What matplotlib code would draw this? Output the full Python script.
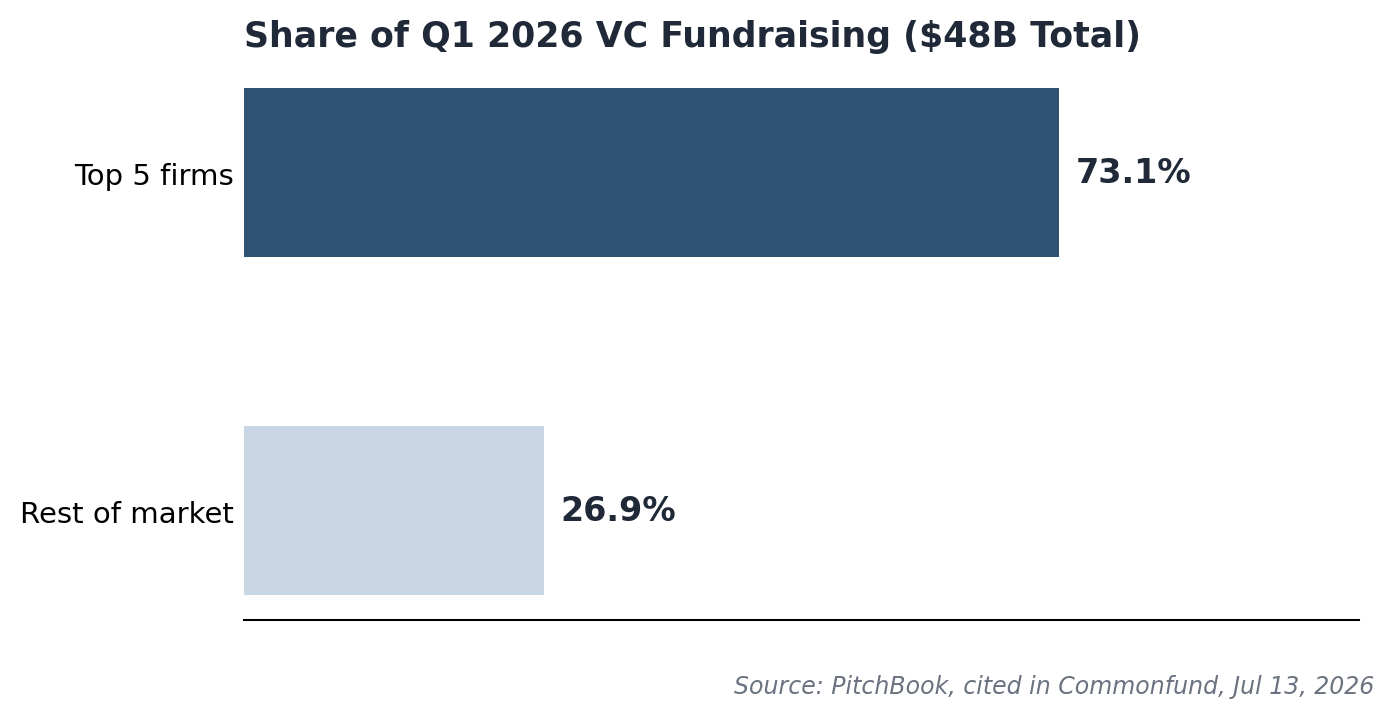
import matplotlib
matplotlib.use("Agg")
import matplotlib.pyplot as plt
import matplotlib.transforms as mtransforms

categories = ["Rest of market", "Top 5 firms"]
shares = [26.9, 73.1]
colors = ["#c9d7e4", "#2f5273"]
value_labels = ["26.9%", "73.1%"]

fig = plt.figure(figsize=(13.94, 7.19), dpi=100)
ax = fig.add_axes([0.175, 0.1372, 0.8, 0.7757])
ax.barh(categories, shares, height=0.5, color=colors)
ax.set_xlim(0, 100)
shift1 = mtransforms.ScaledTranslation(0, -1 / 100, fig.dpi_scale_trans)
for i, (v, lab) in enumerate(zip(shares, value_labels)):
    ax.text(v + 1.5, i, lab, va="center", ha="left", fontsize=24,
            fontweight="bold", color="#1f2937",
            transform=ax.transData + shift1)
ax.set_xticks([])
ax.tick_params(axis="y", length=0, labelsize=21, pad=7.5)
shift2 = mtransforms.ScaledTranslation(0, -2 / 100, fig.dpi_scale_trans)
for t in ax.get_yticklabels():
    t.set_transform(t.get_transform() + shift2)
for s in ["top", "right", "left"]:
    ax.spines[s].set_visible(False)
ax.spines["bottom"].set_linewidth(1.5)
ax.set_title("Share of Q1 2026 VC Fundraising ($48B Total)", loc="left",
             fontsize=25, fontweight="bold", color="#1f2937", pad=11)
fig.text(0.986, 0.044, "Source: PitchBook, cited in Commonfund, Jul 13, 2026",
         ha="right", va="center", fontsize=17, style="italic", color="#6b7280")
fig.savefig("out.png", dpi=100)
